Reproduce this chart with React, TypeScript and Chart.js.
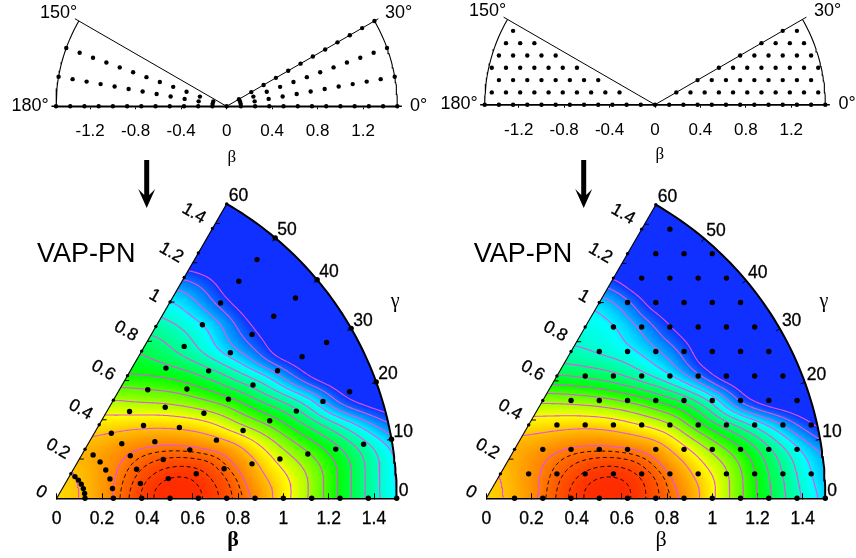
import React, { useEffect, useRef } from "react";
import { Chart, registerables } from "chart.js";

Chart.register(...registerables);

const WIDTH = 856;
const HEIGHT = 558;
const RADIANS = Math.PI / 180;
const STEP = 0.125;
const ROW = 0.125 * Math.sqrt(3) / 2;
const MAX_BETA = 1.5;

// Axis ticks
const topTicks = [-1.2, -0.8, -0.4, 0, 0.4, 0.8, 1.2];
const bottomTicks = [0, 0.2, 0.4, 0.6, 0.8, 1, 1.2, 1.4];
const edgeTicks = [0.2, 0.4, 0.6, 0.8, 1, 1.2, 1.4];
const edgeLabels = [0, 0.2, 0.4, 0.6, 0.8, 1, 1.2, 1.4];
const gammaLabels = [0, 10, 20, 30, 40, 50, 60];
const topAngleLabels = ["150°", "30°", "180°", "0°"];

// Mesh of the left column: rays times radial steps
const polarBetas = [0.125, 0.25, 0.375, 0.5, 0.625, 0.75, 0.875, 1, 1.125, 1.25, 1.375, 1.5];
const polarRays = [0, 10, 20, 30, 40, 50];
const topRays = [0, 10, 20, 30, 160, 170, 180];

// Mesh of the right column: [first, last] position of each row, in steps of 0.125
const hexRows = [[1, 12], [0.5, 11.5], [1, 11], [1.5, 11.5], [2, 11], [2.5, 10.5], [3, 10], [3.5, 9.5], [4, 9], [4.5, 8.5], [5, 8], [5.5, 6.5], [6, 6]];
const topHexRight = [[0, 12], [1.5, 11.5], [3, 11], [4.5, 11.5], [6, 11], [7.5, 10.5], [9, 10]];
const topHexLeft = [[-12, -1], [-11.5, -2.5], [-11, -4], [-11.5, -5.5], [-11, -7], [-10.5, -8.5], [-10, -10]];

// Energy above the minimum (MeV) read at the mesh nodes; row = height, column = from the 60 degree edge
const energyLeft = [
  [2.4, 2, 0.88, 0.08, -0.12, -0.05, 0.28, 0.9, 2.5, 4.2, 6.2, 8.3, 10, 12],
  [2.15, 1.45, 0.6, 0.12, -0.02, 0.22, 0.75, 2.2, 3.4, 5, 7.2, 9.2, 11],
  [1.65, 1.2, 0.8, 0.65, 0.72, 0.95, 2.35, 3.9, 5.2, 6.7, 8.4, 10.2, 12],
  [2.4, 2.2, 2.1, 2.2, 2.7, 4, 5, 6.5, 8, 9.7, 11.5, 13],
  [3.9, 4.2, 4.3, 4.8, 5.5, 6.8, 8, 9.7, 12.8, 14.2, 15],
  [6, 6, 6.4, 7.3, 8.7, 10, 12.6, 14.5, 15, 15.5],
  [7, 7.9, 9, 10.5, 12, 14.5, 15, 15.5, 16],
  [8.4, 9, 10.1, 12.3, 14, 15, 16, 16],
  [9.7, 11, 12.9, 14.5, 15.5, 16, 16],
  [12, 13, 15, 16, 16, 16],
  [15, 16, 16, 16, 16],
  [16, 16, 16, 16],
  [16, 16, 16],
  [16, 16, 16],
];
const energyRight = [
  [2.35, 1.88, 0.75, 0.1, -0.1, -0.05, 0.36, 0.92, 2.7, 4.8, 6.8, 8.7, 10.3, 12],
  [2.1, 1.2, 0.53, 0.1, -0.02, 0.18, 0.75, 2.2, 3.7, 5.9, 8, 10, 11.8],
  [1.55, 1.15, 0.75, 0.65, 0.71, 1.1, 2.55, 4.1, 5.6, 7.6, 9.6, 11.4],
  [2.4, 2.25, 2.1, 2.3, 2.9, 3.7, 5.6, 7.2, 9, 11, 13, 14.5],
  [4.1, 4.2, 4.5, 5, 5.9, 7, 9, 12.8, 14.5, 15, 15.5],
  [7, 7.3, 7.8, 8.8, 10, 12, 14.5, 15, 15.5, 16],
  [8.9, 9.3, 9.7, 10.7, 12.3, 15, 15.5, 16, 16],
  [9.4, 9.6, 11, 13, 14.5, 15.5, 16, 16],
  [10, 11.5, 14, 15, 16, 16, 16],
  [13, 15, 16, 16, 16, 16],
  [15, 16, 16, 16, 16],
  [16, 16, 16, 16],
  [16, 16, 16],
  [16, 16, 16],
];

// Colour scale and contour levels
const colourStops = [0, 1, 2.9, 6, 9.8, 11.5, 13];
const colourValues = [[255, 44, 0], [255, 130, 0], [255, 255, 0], [0, 255, 0], [0, 255, 255], [0, 140, 255], [16, 48, 255]];
const dashedLevels = [0.06, 0.25, 0.5, 0.75];
const solidLevels = [1, 2, 3, 4, 5, 6, 7, 8, 9, 10, 11, 12, 13];

type Pt = { x: number; y: number };
const polar = (beta: number, gamma: number): Pt => ({ x: beta * Math.cos(gamma * RADIANS), y: beta * Math.sin(gamma * RADIANS) });
const clamp = (v: number, a: number, b: number) => Math.max(a, Math.min(b, v));

const SMOOTHING = 0.8;
function blendWeights(t: number) {
  const t2 = t * t;
  const t3 = t2 * t;
  const c = [-0.5 * t3 + t2 - 0.5 * t, 1.5 * t3 - 2.5 * t2 + 1, -1.5 * t3 + 2 * t2 + 0.5 * t, 0.5 * t3 - 0.5 * t2];
  const s = [(1 - t) * (1 - t) * (1 - t) / 6, (3 * t3 - 6 * t2 + 4) / 6, (-3 * t3 + 3 * t2 + 3 * t + 1) / 6, t3 / 6];
  return c.map((v, n) => v * (1 - SMOOTHING) + s[n] * SMOOTHING);
}

function field(table: number[][], x: number, y: number) {
  const fj = y / ROW;
  const fi = x / STEP - fj / 2;
  const j0 = Math.floor(fj);
  const i0 = Math.floor(fi);
  const wj = blendWeights(fj - j0);
  const wi = blendWeights(fi - i0);
  let sum = 0;
  for (let n = 0; n < 4; n++) {
    // below the axis the fan mirrors itself, and the table then runs the other way along the rows
    const jj = j0 + n - 1;
    const row = table[clamp(Math.abs(jj), 0, table.length - 1)];
    let acc = 0;
    for (let m = 0; m < 4; m++) {
      const ii = i0 + m - 1 + (jj < 0 ? jj : 0);
      acc += wi[m] * row[clamp(ii, 0, row.length - 1)];
    }
    sum += wj[n] * acc;
  }
  return sum;
}

function colourOf(e: number) {
  if (e <= colourStops[0]) return colourValues[0];
  for (let k = 1; k < colourStops.length; k++) {
    if (e <= colourStops[k]) {
      const t = (e - colourStops[k - 1]) / (colourStops[k] - colourStops[k - 1]);
      return colourValues[k].map((c, n) => colourValues[k - 1][n] + (c - colourValues[k - 1][n]) * t);
    }
  }
  return colourValues[colourValues.length - 1];
}

function contourLines(table: number[][], level: number): Pt[][] {
  const nb = 200;
  const ng = 100;
  const grid: number[][] = [];
  for (let a = 0; a <= nb; a++) {
    const col: number[] = [];
    for (let b = 0; b <= ng; b++) {
      const p = polar((a / nb) * MAX_BETA, (b / ng) * 60);
      col.push(field(table, p.x, p.y));
    }
    grid.push(col);
  }
  const hid = (a: number, b: number) => (a * (ng + 1) + b) * 2;
  const vid = (a: number, b: number) => (a * (ng + 1) + b) * 2 + 1;
  const pts = new Map<number, Pt>();
  const links = new Map<number, number[]>();
  const cross = (id: number, a1: number, b1: number, a2: number, b2: number) => {
    const v1 = grid[a1][b1];
    const v2 = grid[a2][b2];
    if (v1 > level === v2 > level) return false;
    if (!pts.has(id)) {
      const t = (level - v1) / (v2 - v1);
      pts.set(id, polar(((a1 + (a2 - a1) * t) / nb) * MAX_BETA, ((b1 + (b2 - b1) * t) / ng) * 60));
    }
    return true;
  };
  const link = (p: number, q: number) => {
    if (!links.has(p)) links.set(p, []);
    if (!links.has(q)) links.set(q, []);
    links.get(p)!.push(q);
    links.get(q)!.push(p);
  };
  for (let a = 0; a < nb; a++) {
    for (let b = 0; b < ng; b++) {
      const e0 = hid(a, b);
      const e1 = vid(a + 1, b);
      const e2 = hid(a, b + 1);
      const e3 = vid(a, b);
      const hit: number[] = [];
      if (cross(e0, a, b, a + 1, b)) hit.push(e0);
      if (cross(e1, a + 1, b, a + 1, b + 1)) hit.push(e1);
      if (cross(e2, a + 1, b + 1, a, b + 1)) hit.push(e2);
      if (cross(e3, a, b + 1, a, b)) hit.push(e3);
      if (hit.length === 2) link(hit[0], hit[1]);
      else if (hit.length === 4) {
        const mid = (grid[a][b] + grid[a + 1][b] + grid[a + 1][b + 1] + grid[a][b + 1]) / 4;
        if (mid > level === grid[a][b] > level) {
          link(e0, e1);
          link(e2, e3);
        } else {
          link(e0, e3);
          link(e1, e2);
        }
      }
    }
  }
  const seen = new Set<number>();
  const lines: Pt[][] = [];
  const walk = (start: number) => {
    const line: Pt[] = [];
    let cur: number | undefined = start;
    while (cur !== undefined && !seen.has(cur)) {
      seen.add(cur);
      line.push(pts.get(cur)!);
      cur = (links.get(cur) || []).find((n) => !seen.has(n));
    }
    if (line.length > 1) lines.push(line);
  };
  links.forEach((v, k) => {
    if (v.length === 1) walk(k);
  });
  links.forEach((_, k) => {
    if (!seen.has(k)) walk(k);
  });
  return lines;
}

function rowsToPoints(rows: number[][]): Pt[] {
  const out: Pt[] = [];
  rows.forEach(([first, last], j) => {
    for (let u = first; u <= last + 1e-6; u++) out.push({ x: u * STEP, y: j * ROW });
  });
  return out;
}

const GAP: Pt = { x: NaN, y: NaN };

function frameLine(data: Pt[], width: number, order = 1) {
  return { data, showLine: true, borderColor: "#000", borderWidth: width, pointRadius: 0, tension: 0, clip: false as const, order, spanGaps: false };
}
function dots(data: Pt[], radius: number, order = 0) {
  return { data, showLine: false, pointRadius: radius, backgroundColor: "#000", borderWidth: 0, clip: false as const, order };
}
function arcPoints(from: number, to: number) {
  const list: Pt[] = [];
  for (let g = from; g <= to; g++) list.push(polar(MAX_BETA, g));
  return list;
}

function drawText(ctx: CanvasRenderingContext2D, text: string, x: number, y: number, font: string, align: CanvasTextAlign = "center", rotate = 0, heavy = 0) {
  ctx.save();
  ctx.translate(x, y);
  ctx.rotate(rotate);
  ctx.font = font;
  ctx.fillStyle = "#000";
  ctx.textAlign = align;
  ctx.textBaseline = "middle";
  if (heavy > 0) {
    ctx.strokeStyle = "#000";
    ctx.lineWidth = heavy;
    ctx.strokeText(text, 0, 0);
  }
  ctx.fillText(text, 0, 0);
  ctx.restore();
}

const SANS = '"Liberation Sans", Arial, sans-serif';
const SERIF = '"Liberation Serif", serif';

function drawArrow(ctx: CanvasRenderingContext2D, x: number) {
  ctx.save();
  ctx.fillStyle = "#000";
  ctx.beginPath();
  ctx.moveTo(x - 2.5, 160);
  ctx.lineTo(x + 2.5, 160);
  ctx.lineTo(x + 2.5, 195);
  ctx.lineTo(x + 8.5, 189);
  ctx.lineTo(x, 208);
  ctx.lineTo(x - 8.5, 189);
  ctx.lineTo(x - 2.5, 195);
  ctx.closePath();
  ctx.fill();
  ctx.restore();
}

function fanConfig(table: number[][], meshData: Pt[], edgeData: Pt[], left: number, right: number, top: number, base: number, betaFont: string, betaX: number, arrowX: number) {
  const datasets: any[] = [];
  datasets.push(dots(meshData, 2.7, 0));
  datasets.push(dots(edgeData, 1.7, 0));
  const tickData: Pt[] = [];
  gammaLabels.slice(1, 6).forEach((g) => tickData.push(polar(MAX_BETA, g), polar(1.48, g), GAP));
  edgeTicks.forEach((b) => {
    const p = polar(b, 60);
    tickData.push(p, { x: p.x + 0.02, y: p.y }, GAP);
  });
  datasets.push(frameLine(tickData, 1, 1));
  datasets.push(frameLine(arcPoints(0, 60), 2, 1));
  datasets.push(frameLine([polar(0, 60), polar(MAX_BETA, 60)], 1.1, 1));
  dashedLevels.forEach((level) =>
    contourLines(table, level).forEach((line) =>
      datasets.push({ data: line, showLine: true, borderColor: "#000", borderWidth: 1, borderDash: [4, 3], pointRadius: 0, tension: 0, order: 2 })
    )
  );
  solidLevels.forEach((level) =>
    contourLines(table, level).forEach((line) =>
      datasets.push({ data: line, showLine: true, borderColor: "#e651e6", borderWidth: 1.1, pointRadius: 0, tension: 0, order: 2 })
    )
  );
  const heatmap = {
    id: "heatmap",
    beforeDraw(chart: any) {
      const { ctx, chartArea, scales } = chart;
      const x0 = Math.floor(chartArea.left) - 1;
      const y0 = Math.floor(chartArea.top) - 1;
      const w = Math.ceil(chartArea.width) + 3;
      const h = Math.ceil(chartArea.height) + 3;
      const img = ctx.createImageData(w, h);
      for (let py = 0; py < h; py++) {
        for (let px = 0; px < w; px++) {
          const x = scales.x.getValueForPixel(x0 + px + 0.5);
          const y = scales.y.getValueForPixel(y0 + py + 0.5);
          const r = Math.hypot(x, y);
          if (r > MAX_BETA || y < 0 || y > x * Math.sqrt(3)) continue;
          const c = colourOf(field(table, x, y));
          const n = (py * w + px) * 4;
          img.data[n] = c[0];
          img.data[n + 1] = c[1];
          img.data[n + 2] = c[2];
          img.data[n + 3] = 255;
        }
      }
      ctx.putImageData(img, x0, y0);
    },
  };
  const labels = {
    id: "labels",
    afterDraw(chart: any) {
      const { ctx, scales } = chart;
      const px = (p: Pt) => ({ x: scales.x.getPixelForValue(p.x), y: scales.y.getPixelForValue(p.y) });
      gammaLabels.forEach((g) => {
        const p = px(polar(MAX_BETA, g));
        drawText(ctx, String(g), p.x + 2, p.y - 7.5, `17.5px ${SANS}`, "left", 0, 0.3);
      });
      edgeLabels.forEach((b) => {
        const p = px(polar(b, 60));
        const single = String(b).length === 1;
        drawText(ctx, String(b), p.x + (single ? -15.5 : -21.5), p.y + (single ? -6 : -10), `17.5px ${SANS}`, "center", 30 * RADIANS, 0.3);
      });
      const tip = px(polar(MAX_BETA, 0));
      drawText(ctx, "VAP-PN", left === 56.7 ? 37 : 473.7, 255, `27px ${SANS}`, "left");
      drawText(ctx, "γ", tip.x - 1.5, 302, `20px ${SERIF}`);
      drawText(ctx, "β", betaX, 540, betaFont);
      drawArrow(ctx, arrowX);
    },
  };
  return {
    padding: { left, right: WIDTH - right, top, bottom: HEIGHT - base - 40 },
    datasets,
    plugins: [heatmap, labels],
    xMin: 0,
    yMax: MAX_BETA * Math.sin(60 * RADIANS),
    ticks: bottomTicks,
    tickLength: -5,
    tickPadding: 15,
    tickFont: 17.5,
    tickStroke: 0.3,
  };
}

function halfConfig(meshData: Pt[], left: number, right: number, top: number, base: number, betaX: number, betaY: number, angleY: number, angleBaseY: number, xs: number[]) {
  const datasets: any[] = [];
  datasets.push(dots(meshData, 2.2, 0));
  datasets.push(frameLine(arcPoints(0, 30), 1.1));
  datasets.push(frameLine(arcPoints(150, 180), 1.1));
  datasets.push(frameLine([polar(1.54, 30), polar(0, 0), polar(1.54, 150)], 1));
  datasets.push(frameLine([polar(1.54, 0), polar(1.54, 180)], 1.4));
  const labels = {
    id: "labels",
    afterDraw(chart: any) {
      const { ctx } = chart;
      drawText(ctx, topAngleLabels[0], xs[0], angleY, `18px ${SANS}`);
      drawText(ctx, topAngleLabels[1], xs[1], angleY, `18px ${SANS}`);
      drawText(ctx, topAngleLabels[2], xs[2], angleBaseY, `18px ${SANS}`);
      drawText(ctx, topAngleLabels[3], xs[3], angleBaseY, `18px ${SANS}`);
      drawText(ctx, "β", betaX, betaY, `17px ${SERIF}`);
    },
  };
  return {
    padding: { left, right: WIDTH - right, top, bottom: HEIGHT - base - 40 },
    datasets,
    plugins: [labels],
    xMin: -MAX_BETA,
    yMax: MAX_BETA * Math.sin(30 * RADIANS),
    ticks: topTicks,
    tickLength: 3,
    tickPadding: 12,
    tickFont: 17,
    tickStroke: 0,
  };
}

function buildPanels() {
  const leftTop: Pt[] = [{ x: 0, y: 0 }];
  topRays.forEach((g) => polarBetas.forEach((b) => leftTop.push(polar(b, g))));
  const rightTop = [...rowsToPoints(topHexRight), ...rowsToPoints(topHexLeft)];
  const leftFan: Pt[] = [];
  polarRays.forEach((g) => polarBetas.forEach((b) => leftFan.push(polar(b, g))));
  const leftEdge = polarBetas.map((b) => polar(b, 60));
  const hexAll = rowsToPoints(hexRows);
  const isEdge = (p: Pt) => Math.abs(p.x * 2 - (p.y / ROW) * STEP) < 1e-6;
  return [
    halfConfig(leftTop, 56, 397.3, 21, 106.3, 231.7, 158, 13, 106, [58.5, 398.5, 30, 418.5]),
    halfConfig(rightTop, 484.7, 825.3, 19.4, 104.7, 659.7, 155, 11, 104, [487.5, 827.5, 459, 847]),
    fanConfig(energyLeft, leftFan, leftEdge, 56.7, 396.7, 203.9, 498.3, `bold 22px ${SERIF}`, 233, 146.7),
    fanConfig(energyRight, hexAll.filter((p) => !isEdge(p)), hexAll.filter(isEdge), 486.3, 825.3, 204.7, 498.3, `22px ${SERIF}`, 661, 583.7),
  ];
}

export default function App() {
  const refs = useRef<(HTMLCanvasElement | null)[]>([]);
  useEffect(() => {
    const charts = buildPanels().map((panel, n) => {
      const canvas = refs.current[n]!;
      return new Chart(canvas, {
        type: "scatter",
        data: { datasets: panel.datasets },
        plugins: panel.plugins,
        options: {
          responsive: false,
          animation: false,
          devicePixelRatio: 1,
          events: [],
          layout: { padding: panel.padding },
          plugins: { legend: { display: false }, tooltip: { enabled: false } },
          scales: {
            x: {
              type: "linear",
              min: panel.xMin,
              max: MAX_BETA,
              afterFit: (s: any) => {
                s.height = 40;
              },
              afterBuildTicks: (s: any) => {
                s.ticks = panel.ticks.map((value) => ({ value }));
              },
              border: { display: true, color: "#000", width: 1.4 },
              grid: { drawOnChartArea: false, drawTicks: true, tickLength: panel.tickLength, tickColor: "#000", tickWidth: 1 },
              ticks: {
                autoSkip: false,
                maxRotation: 0,
                padding: panel.tickPadding,
                color: "#000",
                textStrokeColor: "#000",
                textStrokeWidth: panel.tickStroke,
                font: { family: "Liberation Sans", size: panel.tickFont },
                callback: (v: any) => String(v),
              },
            },
            y: { type: "linear", display: false, min: 0, max: panel.yMax },
          },
        } as any,
      } as any);
    });
    return () => charts.forEach((c) => c.destroy());
  }, []);
  return (
    <div style={{ position: "fixed", left: 0, top: 0, width: WIDTH, height: HEIGHT, background: "#fff" }}>
      {[0, 1, 2, 3].map((n) => (
        <canvas
          key={n}
          ref={(el) => {
            refs.current[n] = el;
          }}
          width={WIDTH}
          height={HEIGHT}
          style={{ position: "absolute", left: 0, top: 0, width: WIDTH, height: HEIGHT }}
        />
      ))}
    </div>
  );
}
